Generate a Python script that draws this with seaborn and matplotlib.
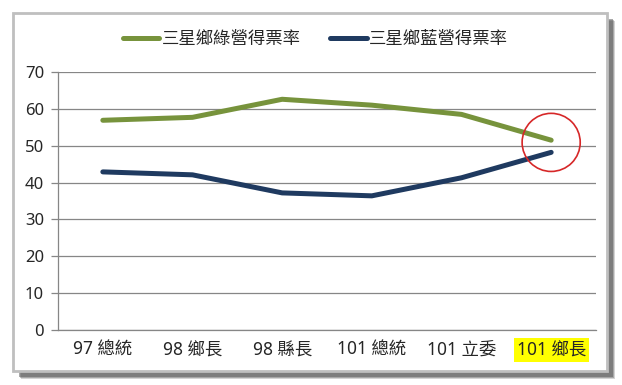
import pandas as pd
import numpy as np
import seaborn as sns
import matplotlib.pyplot as plt
from matplotlib.patches import Rectangle

# data
elections = ['97 總統', '98 鄉長', '98 縣長', '101 總統', '101 立委', '101 鄉長']
green_rate = [56.9, 57.7, 62.6, 61.0, 58.5, 51.5]
blue_rate = [42.9, 42.1, 37.2, 36.4, 41.3, 48.2]
series_names = ['三星鄉綠營得票率', '三星鄉藍營得票率']

df = pd.DataFrame({
    'election': elections * 2,
    'rate': green_rate + blue_rate,
    'party': [series_names[0]] * len(elections) + [series_names[1]] * len(elections),
})

sns.set_style('white')
plt.rcParams['font.family'] = ['Noto Sans', 'Noto Sans CJK TC', 'DejaVu Sans']

fig = plt.figure(figsize=(6.22, 3.85), dpi=100)
W, H = 622, 385

# outer frame with soft shadow
for off, a in [(8, 0.25), (7, 0.35), (6, 0.5)]:
    fig.patches.append(Rectangle(((13 + off) / W, (385 - 371 - off) / H), 594 / W, 358 / H,
                                 transform=fig.transFigure, facecolor='#555555',
                                 edgecolor='none', alpha=a, zorder=0))
fig.patches.append(Rectangle((13 / W, (385 - 371) / H), 594 / W, 358 / H,
                             transform=fig.transFigure, facecolor='white',
                             edgecolor='#bfbfbf', linewidth=2, zorder=1))

ax = fig.add_axes([58 / W, (385 - 330) / H, (596 - 58) / W, (330 - 72) / H])
ax.set_zorder(2)
ax.patch.set_alpha(0)

sns.lineplot(data=df, x='election', y='rate', hue='party',
             palette=['#77933C', '#1F3A60'], linewidth=3.6, ax=ax, sort=False)

# highlight circle around the last election
ax.scatter([5], [50.9], s=1750, facecolors='none', edgecolors='#d62728',
           linewidths=1.2, zorder=5)

ax.set_xlim(-0.5, 5.5)
ax.set_ylim(0, 70)
ax.set_yticks(range(0, 71, 10))
ax.set_xlabel('')
ax.set_ylabel('')
ax.yaxis.grid(True, color='#868686', linewidth=0.9)
ax.set_axisbelow(True)

for side in ['top', 'right']:
    ax.spines[side].set_visible(False)
for side in ['left', 'bottom']:
    ax.spines[side].set_color('#868686')
    ax.spines[side].set_linewidth(0.9)

ax.set_xticks(range(len(elections)))
ax.set_xticklabels(elections)
ax.set_xticks(np.arange(-0.5, 6, 1), minor=True)
ax.tick_params(axis='x', which='major', length=0, pad=8, labelsize=12.5)
ax.tick_params(axis='x', which='minor', length=5, color='#868686', width=0.9, direction='out')
ax.tick_params(axis='y', length=5, color='#868686', width=0.9, labelsize=12, pad=5, left=True)

ax.get_xticklabels()[-1].set_bbox(dict(facecolor='#ffff00', edgecolor='none', pad=2))

handles, labels = ax.get_legend_handles_labels()
ax.legend(handles, labels, loc='center', bbox_to_anchor=(0.507, (385 - 39) / H),
          bbox_transform=fig.transFigure, ncol=2, frameon=False, fontsize=12.5,
          handlelength=2.1, handletextpad=0.15, columnspacing=1.7)

plt.savefig('out.png', dpi=100)
